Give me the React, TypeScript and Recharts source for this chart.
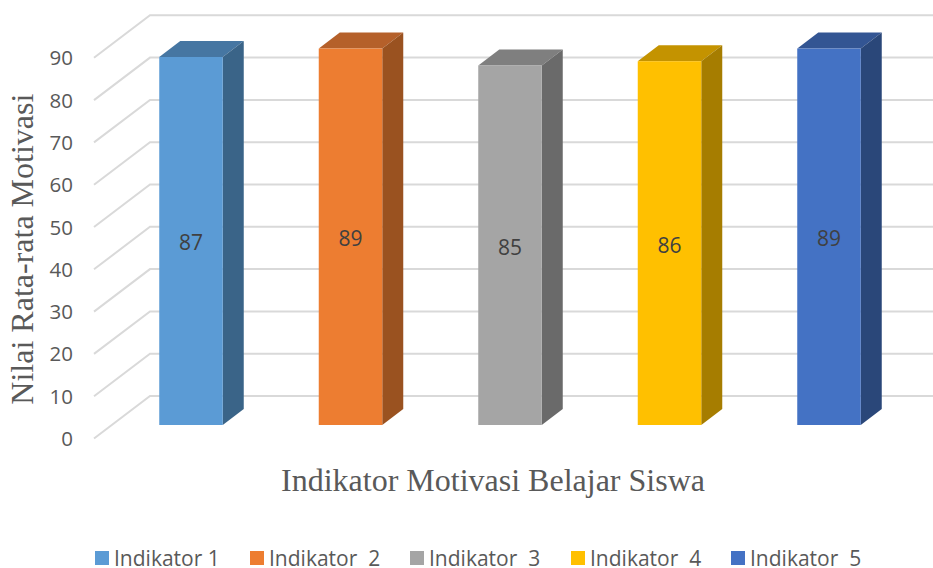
import {
  BarChart,
  Bar,
  XAxis,
  YAxis,
  CartesianGrid,
  LabelList,
  Legend,
} from "recharts";

const categories = ["Indikator 1", "Indikator  2", "Indikator  3", "Indikator  4", "Indikator  5"];
const values = [87, 89, 85, 86, 89];
const yTicks = [0, 10, 20, 30, 40, 50, 60, 70, 80, 90];

const frontColors = ["#5B9BD5", "#ED7D31", "#A5A5A5", "#FFC000", "#4472C4"];
const topColors = ["#4676A2", "#B5602A", "#7F7F7F", "#C49300", "#335593"];
const sideColors = ["#3A6488", "#9A5220", "#6A6A6A", "#A67D00", "#2A4779"];

const legendLefts = [95, 250, 410, 571, 731];

const data = categories.map((name, i) => ({ name, value: values[i] }));

const TEXT = "#595959";
const DEPTH_X = 21;
const DEPTH_Y = 16;
const GRID_DROP = 13.5;
const GRID_RISE = 29;

function Bar3D(props: any) {
  const { x, y, width, height, index } = props;
  const r = x + width;
  const b = y + height;
  return (
    <g>
      <polygon
        points={`${x},${y} ${x + DEPTH_X},${y - DEPTH_Y} ${r + DEPTH_X},${y - DEPTH_Y} ${r},${y}`}
        fill={topColors[index]}
      />
      <polygon
        points={`${r},${y} ${r + DEPTH_X},${y - DEPTH_Y} ${r + DEPTH_X},${b - DEPTH_Y} ${r},${b}`}
        fill={sideColors[index]}
      />
      <rect x={x} y={y} width={width} height={height} fill={frontColors[index]} />
    </g>
  );
}

function GridLine(props: any) {
  const { y1 } = props;
  return (
    <g stroke="#D9D9D9" strokeWidth={2} fill="none">
      <polyline points={`94,${y1 + GRID_DROP} 150,${y1 - GRID_RISE} 933,${y1 - GRID_RISE}`} />
    </g>
  );
}

function YTick(props: any) {
  const { y, payload } = props;
  return (
    <text x={73} y={y + GRID_DROP + 7.5} textAnchor="end" fontSize={20.5} fill={TEXT} fontFamily="Open Sans">
      {payload.value}
    </text>
  );
}

function ChartLegend() {
  return (
    <div style={{ position: "relative", width: 933, height: 20 }}>
      {categories.map((name, i) => (
        <div
          key={name}
          style={{
            position: "absolute",
            left: legendLefts[i],
            top: 0,
            width: 150,
            display: "flex",
            alignItems: "center",
            height: 20,
          }}
        >
          <span style={{ width: 14, height: 14, background: frontColors[i], marginRight: 5, flex: "none" }} />
          <span style={{ fontFamily: "Open Sans", fontSize: 21, lineHeight: "20px", color: TEXT, whiteSpace: "pre" }}>
            {name}
          </span>
        </div>
      ))}
    </div>
  );
}

export default function App() {
  return (
    <div style={{ position: "absolute", left: 0, top: 0, width: 933, height: 568, background: "#fff", overflow: "hidden" }}>
      <BarChart
        width={933}
        height={568}
        data={data}
        margin={{ top: 44.3, right: 24.25, bottom: 0, left: 0 }}
      >
        <CartesianGrid vertical={false} horizontal={(p: any) => <GridLine key={p.y1} {...p} />} />
        <XAxis
          dataKey="name"
          tick={false}
          axisLine={false}
          tickLine={false}
          height={143}
          label={{
            value: "Indikator Motivasi Belajar Siswa",
            position: "insideTop",
            dx: -17,
            dy: 38,
            fontFamily: "Liberation Serif",
            fontSize: 32,
            fill: TEXT,
          }}
        />
        <YAxis
          domain={[0, 90]}
          ticks={yTicks}
          width={111.25}
          axisLine={false}
          tickLine={false}
          tick={<YTick />}
          label={{
            value: "Nilai Rata-rata Motivasi",
            angle: -90,
            position: "insideLeft",
            dx: 17,
            dy: 170,
            fontFamily: "Liberation Serif",
            fontSize: 32,
            fill: TEXT,
          }}
        />
        <Legend
          layout="horizontal"
          verticalAlign="middle"
          content={<ChartLegend />}
          wrapperStyle={{ left: 0, top: 548, width: 933, height: 20 }}
        />
        <Bar dataKey="value" barSize={63.5} shape={<Bar3D />} isAnimationActive={false}>
          <LabelList dataKey="value" position="center" dy={2} fontSize={21} fill="#404040" fontFamily="Open Sans" />
        </Bar>
      </BarChart>
    </div>
  );
}
